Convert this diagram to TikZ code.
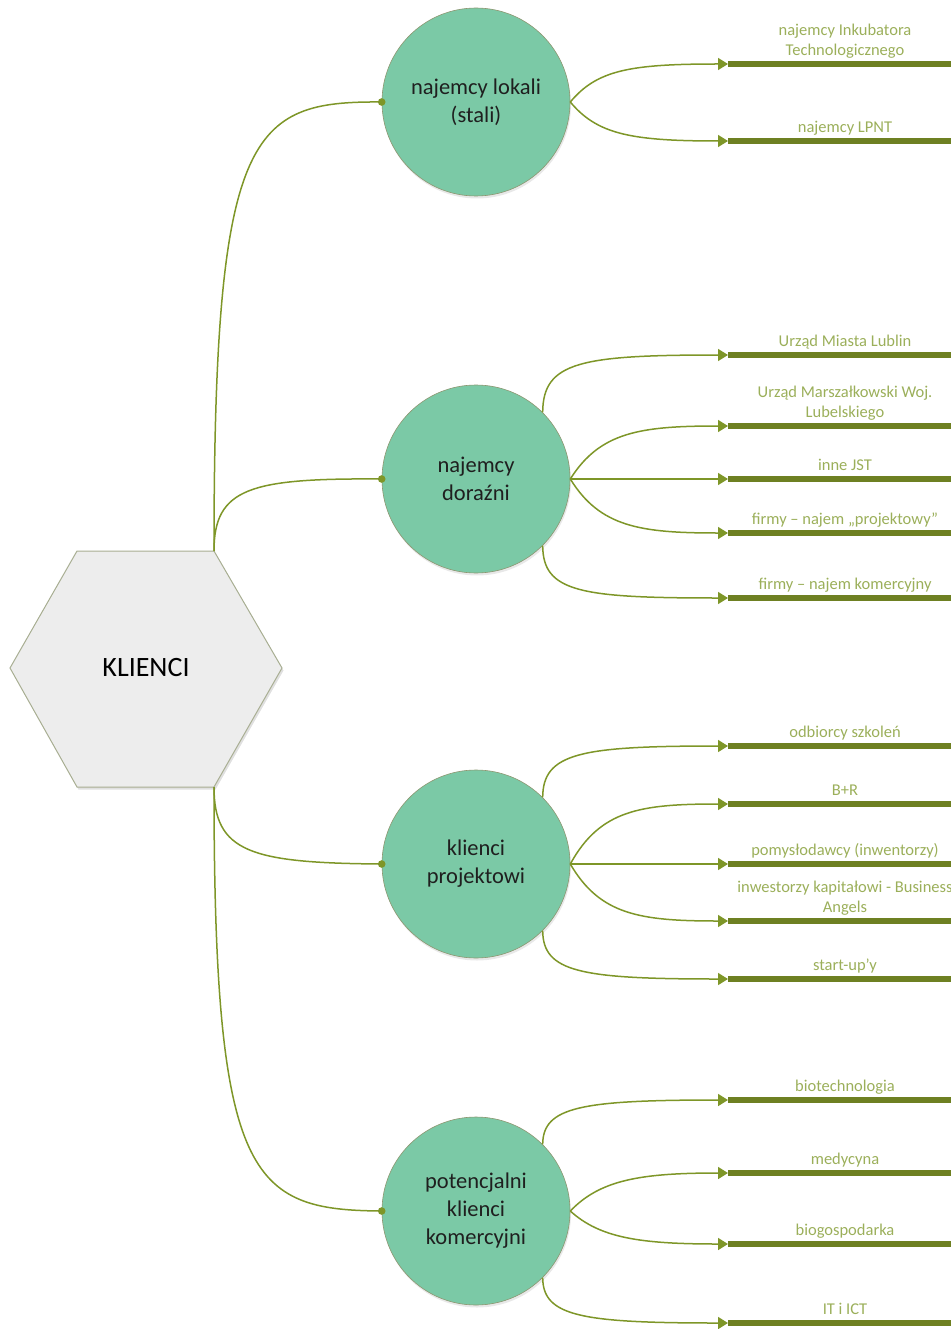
\documentclass[tikz,border=0pt]{standalone}
\usepackage{fontspec}
\setmainfont{Carlito}
\usetikzlibrary{arrows.meta,shadows}
\definecolor{mint}{RGB}{123,201,166}
\definecolor{mintedge}{RGB}{140,150,112}
\definecolor{hexfill}{RGB}{237,237,237}
\definecolor{hexedge}{RGB}{168,174,146}
\definecolor{linkgreen}{RGB}{126,150,40}
\definecolor{bargreen}{RGB}{110,128,34}
\definecolor{taggreen}{RGB}{155,175,90}
\begin{document}
\begin{tikzpicture}[x=1pt,y=-1pt,
  hub/.style={circle, minimum size=188pt, inner sep=0pt, fill=mint, draw=mintedge,
    line width=0.6pt, align=center, text=black!88,
    font=\fontsize{22.5}{28}\selectfont,
    drop shadow={opacity=0.18, shadow xshift=1pt, shadow yshift=-2.5pt}},
  link/.style={draw=linkgreen, line width=1.5pt},
  leaf/.style={link, -{Triangle[length=10pt,width=12pt]}},
  barline/.style={draw=bargreen, line width=6pt},
  tag/.style={anchor=south, inner sep=0pt, align=center, text=taggreen,
    font=\fontsize{16.5}{20}\selectfont},
  hexbox/.style={fill=hexfill, draw=hexedge, line width=1pt, line join=miter}]
\useasboundingbox (0,0) rectangle (950,1329);

% central hexagon
\coordinate (hexL) at (10,668);
\coordinate (hexTL) at (77,551);
\coordinate (hexTR) at (214,551);
\coordinate (hexR) at (282,668);
\coordinate (hexBR) at (214,787);
\coordinate (hexBL) at (77,787);
\fill[black, opacity=0.12] ([shift={(1.5,2.5)}]hexL) -- ([shift={(1.5,2.5)}]hexTL) -- ([shift={(1.5,2.5)}]hexTR)
  -- ([shift={(1.5,2.5)}]hexR) -- ([shift={(1.5,2.5)}]hexBR) -- ([shift={(1.5,2.5)}]hexBL) -- cycle;
\draw[hexbox] (hexL) -- (hexTL) -- (hexTR) -- (hexR) -- (hexBR) -- (hexBL) -- cycle;
\node[font=\fontsize{28}{32}\selectfont, text=black] (hex) at (146,668) {KLIENCI};

% the four client groups
\node[hub] (c1) at (476,102) {najemcy lokali\\(stali)};
\node[hub] (c2) at (476,479) {najemcy\\doraźni};
\node[hub] (c3) at (476,864) {klienci\\projektowi};
\node[hub] (c4) at (476,1211) {potencjalni\\klienci\\komercyjni};

% hexagon to groups
\draw[link] (hexTR) .. controls (214,130) and (250,101) .. (c1.west);
\draw[link] (hexTR) .. controls (214,488) and (250,478) .. (c2.west);
\draw[link] (hexBR) .. controls (214,852) and (250,863) .. (c3.west);
\draw[link] (hexBR) .. controls (214,1180) and (250,1210) .. (c4.west);
\foreach \c in {c1,c2,c3,c4} \fill[linkgreen] (\c.west) circle (3.8);

% arrow tips and bar ends
\foreach \n/\y in {a1/64, a2/141,
                   b1/355, b2/426, b3/479, b4/533, b5/598,
                   p1/746, p2/804, p3/864, p4/921, p5/979,
                   k1/1100, k2/1173, k3/1244, k4/1323} {
  \coordinate (t\n) at (728,\y);
  \coordinate (e\n) at (960,\y);
}

% group 1
\draw[leaf] (c1.east) .. controls (597,70) and (630,64) .. (ta1);
\draw[leaf] (c1.east) .. controls (597,134) and (630,141) .. (ta2);
% group 2
\draw[leaf] (c2.45) .. controls (543,362) and (580,355) .. (tb1);
\draw[leaf] (c2.east) .. controls (600,432) and (640,426) .. (tb2);
\draw[leaf] (c2.east) -- (tb3);
\draw[leaf] (c2.east) .. controls (600,527) and (640,533) .. (tb4);
\draw[leaf] (c2.-45) .. controls (543,592) and (580,598) .. (tb5);
% group 3
\draw[leaf] (c3.45) .. controls (543,753) and (580,746) .. (tp1);
\draw[leaf] (c3.east) .. controls (600,810) and (640,804) .. (tp2);
\draw[leaf] (c3.east) -- (tp3);
\draw[leaf] (c3.east) .. controls (600,915) and (640,921) .. (tp4);
\draw[leaf] (c3.-45) .. controls (543,972) and (580,979) .. (tp5);
% group 4
\draw[leaf] (c4.45) .. controls (543,1107) and (580,1100) .. (tk1);
\draw[leaf] (c4.east) .. controls (600,1180) and (640,1173) .. (tk2);
\draw[leaf] (c4.east) .. controls (600,1238) and (640,1244) .. (tk3);
\draw[leaf] (c4.-45) .. controls (543,1316) and (580,1323) .. (tk4);

% thick bars
\foreach \n in {a1,a2,b1,b2,b3,b4,b5,p1,p2,p3,p4,p5,k1,k2,k3,k4}
  \draw[barline] (t\n) -- (e\n);

% labels above the bars
\node[tag] (la1) at (845,62) {najemcy Inkubatora\\Technologicznego\strut};
\node[tag] (la2) at (845,139) {najemcy LPNT\strut};
\node[tag] (lb1) at (845,353) {Urząd Miasta Lublin\strut};
\node[tag] (lb2) at (845,424) {Urząd Marszałkowski Woj.\\Lubelskiego\strut};
\node[tag] (lb3) at (845,477) {inne JST\strut};
\node[tag] (lb4) at (845,531) {firmy – najem „projektowy”\strut};
\node[tag] (lb5) at (845,596) {firmy – najem komercyjny\strut};
\node[tag] (lp1) at (845,744) {odbiorcy szkoleń\strut};
\node[tag] (lp2) at (845,802) {B+R\strut};
\node[tag] (lp3) at (845,862) {pomysłodawcy (inwentorzy)\strut};
\node[tag] (lp4) at (845,919) {inwestorzy kapitałowi - Business\\Angels\strut};
\node[tag] (lp5) at (845,977) {start-up’y\strut};
\node[tag] (lk1) at (845,1098) {biotechnologia\strut};
\node[tag] (lk2) at (845,1171) {medycyna\strut};
\node[tag] (lk3) at (845,1242) {biogospodarka\strut};
\node[tag] (lk4) at (845,1321) {IT i ICT\strut};
\end{tikzpicture}
\end{document}
